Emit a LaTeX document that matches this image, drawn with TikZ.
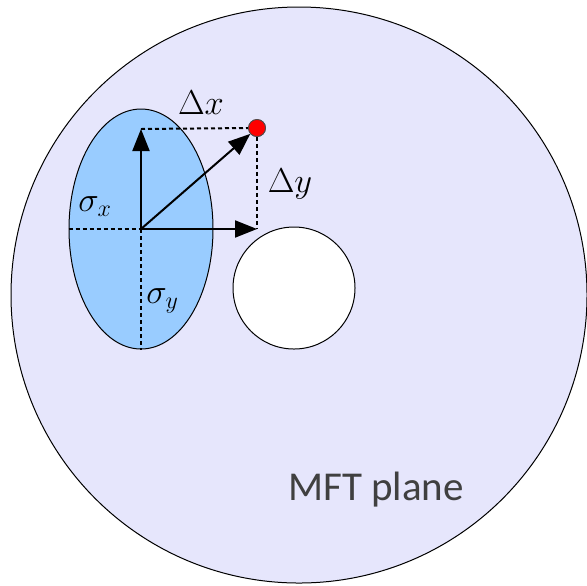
\documentclass[tikz,border=0pt]{standalone}
\usepackage{fontspec}
\usepackage{amsmath}
\usepackage{tikz}
\usetikzlibrary{arrows.meta,shapes.geometric}
\newfontfamily\planefont{Carlito}
\definecolor{planefill}{RGB}{230,230,252}
\definecolor{spotfill}{RGB}{153,204,255}
\definecolor{labelgray}{RGB}{64,64,64}

\begin{document}
\begin{tikzpicture}[
    x=0.5pt, y=-0.5pt,
    >={Triangle[length=11pt, width=8.5pt]},
    plane/.style={draw, circle, fill=planefill, line width=0.5pt, inner sep=0pt, minimum size=288pt},
    spot/.style={draw, ellipse, fill=spotfill, line width=0.5pt, inner sep=0pt, minimum width=72pt, minimum height=120pt},
    hole/.style={draw, circle, fill=white, line width=0.5pt, inner sep=0pt, minimum size=61pt},
    target/.style={draw=black!70, circle, fill=red, line width=0.4pt, inner sep=0pt, minimum size=8.5pt},
    guide/.style={dash pattern=on 2pt off 1.5pt, line width=1pt},
    vec/.style={->, line width=1pt},
    sym/.style={inner sep=0pt, font=\fontsize{16.5}{20}\selectfont}
]
\useasboundingbox (0,0) rectangle (587,585);
\node[plane] (mft) at (299,295) {};
\node[spot] (spot) at (141,229) {};
\node[hole] (hole) at (294,288) {};
\node[target] (dot) at (257,128) {};
\coordinate (c) at (spot.center);
\coordinate (top) at (141,129);
\coordinate (right) at (257,229);

\draw[guide] (spot.west) -- (c);
\draw[guide] (c) -- (spot.south);
\draw[guide] (top) -- (dot.west);
\draw[guide] (dot.south) -- (right);

\draw[vec] (c) -- (top);
\draw[vec] (c) -- (right);
\draw[vec] (c) -- (dot);
\node[target] at (dot) {};

\node[sym, anchor=base] (dx) at (201,114) {$\Delta x$};
\node[sym, anchor=base] (dy) at (290,192) {$\Delta y$};
\node[sym, anchor=base west] (sx) at (78,211) {$\sigma_x$};
\node[sym, anchor=base west] (sy) at (146,303) {$\sigma_y$};
\node[inner sep=0pt, anchor=base, text=labelgray, font=\planefont\fontsize{20.5}{24}\selectfont] (label) at (376,500) {MFT plane};
\end{tikzpicture}
\end{document}
